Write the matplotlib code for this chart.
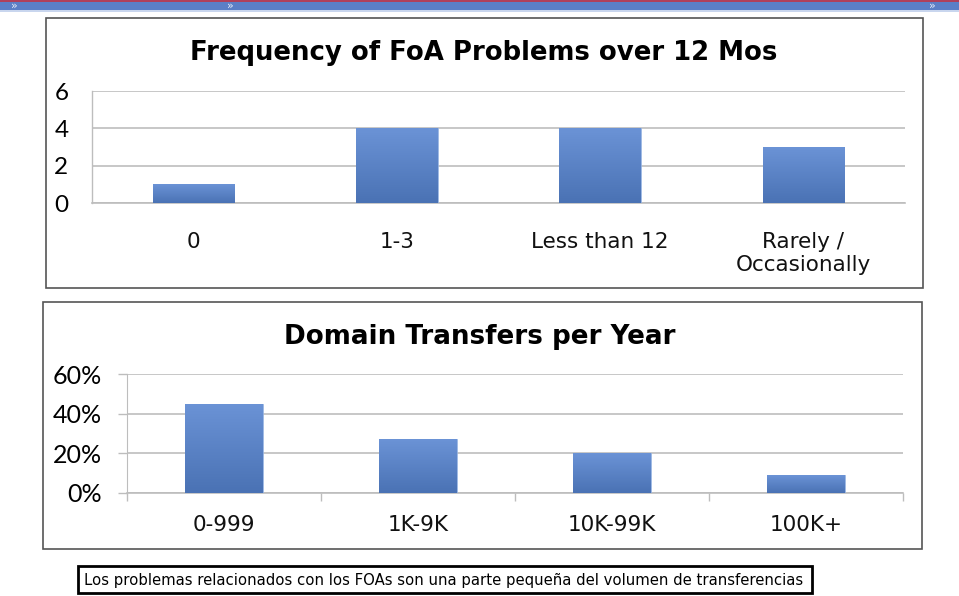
import numpy as np
import matplotlib
matplotlib.use("Agg")
import matplotlib.pyplot as plt
from matplotlib.patches import Rectangle
from matplotlib.ticker import FuncFormatter
from matplotlib.colors import LinearSegmentedColormap

# ---- data ----
freq_categories = ["0", "1-3", "Less than 12", "Rarely /\nOccasionally"]
freq_values = [1, 4, 4, 3]
freq_yticks = [0, 2, 4, 6]

transfer_categories = ["0-999", "1K-9K", "10K-99K", "100K+"]
transfer_values = [0.45, 0.27, 0.20, 0.09]
transfer_yticks = [0.0, 0.2, 0.4, 0.6]

title_top = "Frequency of FoA Problems over 12 Mos"
title_bottom = "Domain Transfers per Year"
caption = "Los problemas relacionados con los FOAs son una parte pequeña del volumen de transferencias"

W, H = 959, 596
fig = plt.figure(figsize=(W / 100, H / 100), dpi=100)
fig.patch.set_facecolor("white")

def fx(x):
    return x / W

def fy(y):
    return 1 - y / H

# ---- top banner ----
fig.patches.append(Rectangle((0, fy(10)), 1, 10 / H, transform=fig.transFigure,
                             facecolor="#5B7FC6", edgecolor="none"))
fig.patches.append(Rectangle((0, fy(1.5)), 1, 1.5 / H, transform=fig.transFigure,
                             facecolor="#B0405A", edgecolor="none"))
fig.patches.append(Rectangle((0, fy(11.5)), 1, 1.5 / H, transform=fig.transFigure,
                             facecolor="#C9D6EE", edgecolor="none"))
for xm in [14, 230, 932]:
    fig.text(fx(xm), fy(6), "»", color="#E8EEF8", fontsize=8, ha="center", va="center")

# ---- chart frames ----
def frame(x0, y0, x1, y1, lw=1.2, color="#555555"):
    fig.patches.append(Rectangle((fx(x0), fy(y1)), (x1 - x0) / W, (y1 - y0) / H,
                                 transform=fig.transFigure, facecolor="none",
                                 edgecolor=color, linewidth=lw))

frame(46, 18, 923, 288)
frame(43, 302, 922, 549)

grad = np.linspace(0, 1, 256).reshape(-1, 1)
cmap = LinearSegmentedColormap.from_list("bar", ["#4A72B4", "#6B93D6"])

def gradient_bars(ax, bars):
    for b in bars:
        x0, y0 = b.get_x(), b.get_y()
        w, h = b.get_width(), b.get_height()
        im = ax.imshow(grad, extent=(x0, x0 + w, y0, y0 + h), origin="lower",
                       cmap=cmap, aspect="auto", zorder=3)
        im.set_clip_path(b)
        b.set_facecolor("none")
        b.set_edgecolor("#8FAEDF")
        b.set_linewidth(0.6)

grid_color = "#BDBDBD"
xlabel_font = "DejaVu Sans"
ylabel_font = "Lato"

# ---- top chart ----
ax1 = fig.add_axes([fx(92), fy(203), (905 - 92) / W, (203 - 91) / H])
x1 = np.arange(len(freq_categories))
bars1 = ax1.bar(x1, freq_values, width=0.4, zorder=3)
ax1.set_xlim(-0.5, len(freq_categories) - 0.5)
ax1.set_ylim(0, 6)
gradient_bars(ax1, bars1)
ax1.set_yticks(freq_yticks)
ax1.set_xticks(x1)
ax1.set_xticklabels(freq_categories, fontsize=15.5, family=xlabel_font, color="#111111",
                    linespacing=1.15)
ax1.tick_params(axis="x", length=0, pad=21)
ax1.tick_params(axis="y", length=0, pad=17, labelsize=17.5)
for t in ax1.get_yticklabels():
    t.set_family(ylabel_font)
ax1.yaxis.grid(True, color=grid_color, linewidth=1.2, zorder=0)
ax1.set_axisbelow(True)
for s in ["top", "right"]:
    ax1.spines[s].set_visible(False)
ax1.spines["left"].set_color(grid_color)
ax1.spines["bottom"].set_color(grid_color)
ax1.spines["left"].set_linewidth(1.0)
ax1.spines["bottom"].set_linewidth(1.2)
ax1.set_facecolor("none")
fig.text(fx(484), fy(53), title_top, fontsize=18.7, fontweight="bold",
         family="DejaVu Sans", ha="center", va="center", color="#000000")

# ---- bottom chart ----
ax2 = fig.add_axes([fx(127), fy(493), (903 - 127) / W, (493 - 374) / H])
x2 = np.arange(len(transfer_categories))
bars2 = ax2.bar(x2, transfer_values, width=0.4, zorder=3)
ax2.set_xlim(-0.5, len(transfer_categories) - 0.5)
ax2.set_ylim(0, 0.6)
gradient_bars(ax2, bars2)
ax2.set_yticks(transfer_yticks)
ax2.yaxis.set_major_formatter(FuncFormatter(lambda v, p: f"{v*100:.0f}%"))
ax2.set_xticks(np.arange(len(transfer_categories) + 1) - 0.5)
ax2.set_xticklabels([])
ax2.set_xticks(x2, minor=True)
ax2.set_xticklabels(transfer_categories, minor=True, fontsize=15.5, family=xlabel_font,
                    color="#111111")
ax2.tick_params(axis="x", which="major", length=6, color=grid_color, width=1.0)
ax2.tick_params(axis="x", which="minor", length=0, pad=16)
ax2.tick_params(axis="y", length=6.5, color=grid_color, width=1.0, pad=11.5, labelsize=18)
for t in ax2.get_yticklabels():
    t.set_family(ylabel_font)
ax2.yaxis.grid(True, color=grid_color, linewidth=1.2, zorder=0)
ax2.set_axisbelow(True)
for s in ["top", "right"]:
    ax2.spines[s].set_visible(False)
ax2.spines["left"].set_color(grid_color)
ax2.spines["bottom"].set_color(grid_color)
ax2.spines["bottom"].set_linewidth(1.2)
ax2.set_facecolor("none")
fig.text(fx(480), fy(337), title_bottom, fontsize=18.8, fontweight="bold",
         family="DejaVu Sans", ha="center", va="center", color="#000000")

# ---- caption ----
frame(78, 566, 812, 593, lw=2.0, color="#000000")
fig.text(fx(84), fy(580), caption, fontsize=10.7, family="DejaVu Sans",
         ha="left", va="center", color="#000000")

fig.savefig("out.png", dpi=100, facecolor="white")
